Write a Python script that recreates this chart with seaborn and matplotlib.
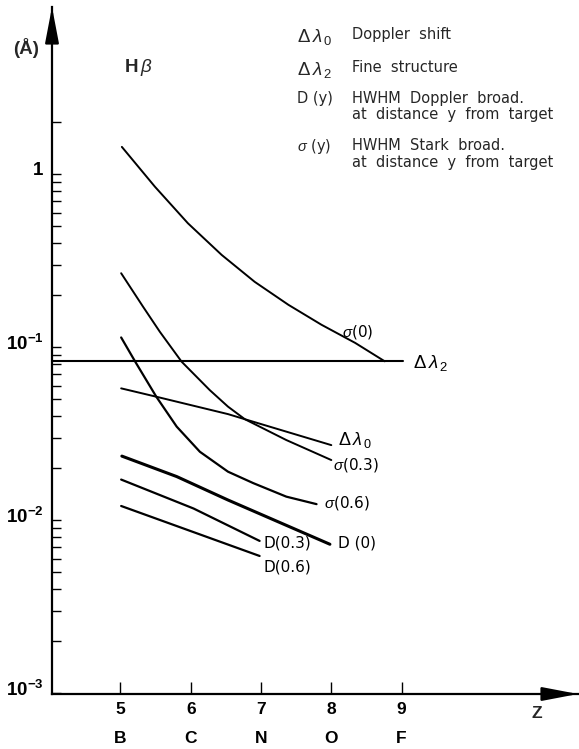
import numpy as np
import pandas as pd
import matplotlib
matplotlib.use("Agg")
import matplotlib.pyplot as plt
import matplotlib.transforms as mtrans
import seaborn as sns
from matplotlib.ticker import FixedLocator, FuncFormatter, NullFormatter

# ---------------- data ----------------
z_sigma0 = [5.02, 5.49, 5.96, 6.44, 6.91, 7.39, 7.86, 8.34, 8.76]
v_sigma0 = [1.44, 0.848, 0.521, 0.342, 0.239, 0.176, 0.135, 0.106, 0.083]

z_sigma03 = [5.01, 5.32, 5.56, 5.87, 6.27, 6.53, 6.77, 7.36, 8.00]
v_sigma03 = [0.268, 0.172, 0.123, 0.0826, 0.0566, 0.0454, 0.0384, 0.0291, 0.0223]

z_sigma06 = [5.01, 5.21, 5.51, 5.80, 6.13, 6.53, 6.89, 7.36, 7.79]
v_sigma06 = [0.114, 0.0826, 0.0518, 0.0348, 0.0249, 0.0191, 0.0164, 0.0137, 0.0124]

z_dl0 = [5.01, 5.51, 6.53, 6.77, 8.00]
v_dl0 = [0.0579, 0.0518, 0.0411, 0.0384, 0.0272]

z_dl2 = [4.03, 9.02]
v_dl2 = [0.083, 0.083]

z_d0 = [5.02, 5.80, 6.53, 7.98]
v_d0 = [0.0235, 0.0179, 0.0131, 0.00727]

z_d03 = [5.01, 6.04, 6.98]
v_d03 = [0.0172, 0.0117, 0.0076]

z_d06 = [5.01, 6.98]
v_d06 = [0.0121, 0.00622]

z_ticks = [5, 6, 7, 8, 9]
elements = ["B", "C", "N", "O", "F"]

y_major = [1e-3, 1e-2, 1e-1, 1.0]
y_major_labels = [r"$\mathbf{10^{-3}}$", r"$\mathbf{10^{-2}}$", r"$\mathbf{10^{-1}}$", r"$\mathbf{1}$"]

curve_labels = [
    (r"$\sigma$(0)", 8.15, 0.1227, 11),
    (r"$\Delta\,\lambda_{\,2}$", 9.16, 0.081, 13.5),
    (r"$\Delta\,\lambda_{\,0}$", 8.09, 0.0291, 13),
    (r"$\sigma$(0.3)", 8.02, 0.0209, 11),
    (r"$\sigma$(0.6)", 7.90, 0.01254, 11),
    ("D (0)", 8.09, 0.00736, 11),
    ("D(0.3)", 7.03, 0.00736, 11),
    ("D(0.6)", 7.03, 0.0054, 11),
]

# ---------------- style ----------------
sns.set_style("white")
plt.rcParams["font.family"] = ["Liberation Sans", "DejaVu Sans"]
plt.rcParams["mathtext.fontset"] = "custom"
plt.rcParams["mathtext.rm"] = "Liberation Sans"
plt.rcParams["mathtext.it"] = "Liberation Sans:italic"
plt.rcParams["mathtext.bf"] = "Liberation Sans:bold"

LABEL_FONT = ["DejaVu Sans"]

W, H = 579, 749
fig = plt.figure(figsize=(W / 100, H / 100), dpi=100)
ax_left, ax_right, ax_bottom, ax_top = 52, 578, 694, 7
ax = fig.add_axes([ax_left / W, 1 - ax_bottom / H, (ax_right - ax_left) / W, (ax_bottom - ax_top) / H])

curves = [
    (z_sigma0, v_sigma0, 1.4),
    (z_sigma03, v_sigma03, 1.4),
    (z_sigma06, v_sigma06, 1.6),
    (z_dl0, v_dl0, 1.4),
    (z_dl2, v_dl2, 1.5),
    (z_d0, v_d0, 2.2),
    (z_d03, v_d03, 1.6),
    (z_d06, v_d06, 1.6),
]
for zz, vv, lw in curves:
    df = pd.DataFrame({"Z": zz, "v": vv})
    sns.lineplot(data=df, x="Z", y="v", ax=ax, color="black", lw=lw,
                 sort=False, estimator=None)

ax.set_yscale("log")
ax.set_xlim(4.026, 11.51)
ax.set_ylim(10 ** -3.004, 10 ** 0.967)

# spines
for s in ["top", "right"]:
    ax.spines[s].set_visible(False)
for s in ["left", "bottom"]:
    ax.spines[s].set_linewidth(1.6)
    ax.spines[s].set_color("black")

# arrows on axes
ax.annotate("", xy=(0, 1), xycoords="axes fraction", xytext=(0, 0.95),
            arrowprops=dict(arrowstyle="-|>,head_length=2.2,head_width=0.42",
                            color="black", lw=1.6, shrinkA=0, shrinkB=0))
ax.annotate("", xy=(1, 0), xycoords="axes fraction", xytext=(0.95, 0),
            arrowprops=dict(arrowstyle="-|>,head_length=2.2,head_width=0.42",
                            color="black", lw=1.6, shrinkA=0, shrinkB=0))

# x ticks
ax.set_xticks(z_ticks)
ax.set_xticklabels([f"{z}\n{e}" for z, e in zip(z_ticks, elements)])
ax.tick_params(axis="x", which="both", bottom=True, top=False, direction="in",
               length=8.5, width=1.0, pad=6, labelsize=12.5, colors="black")
for lbl in ax.get_xticklabels():
    lbl.set_fontweight("bold")
    lbl.set_linespacing(2.1)

# y ticks
ax.yaxis.set_major_locator(FixedLocator(y_major))
ax.yaxis.set_major_formatter(FuncFormatter(
    lambda v, p: y_major_labels[int(round(np.log10(v))) + 3]))
minor = [k * 10.0 ** d for d in (-3, -2, -1) for k in range(2, 10)] + [2.0]
ax.yaxis.set_minor_locator(FixedLocator(minor))
ax.yaxis.set_minor_formatter(NullFormatter())
ax.tick_params(axis="y", which="both", left=True, right=False, direction="in",
               length=6.5, width=1.0, pad=6, labelsize=13.5, colors="black")
ax.set_xlabel("")
ax.set_ylabel("")

# raise y tick labels slightly, as in the reference
offset = mtrans.ScaledTranslation(0, 4 / 72, fig.dpi_scale_trans)
for tick in ax.yaxis.get_major_ticks():
    tick.label1.set_transform(tick.label1.get_transform() + offset)

# curve labels
for txt, zx, vy, fs in curve_labels:
    ax.text(zx, vy, txt, ha="left", va="center", fontsize=fs, color="black",
            family=LABEL_FONT)

# other texts (figure pixel positions)
def ftext(x, y, s, **kw):
    fig.text(x / W, 1 - y / H, s, **kw)

ftext(13, 48, "(Å)", fontsize=13.5, fontweight="bold", va="center", ha="left")
ftext(124, 68, r"H$\,\beta$", fontsize=13.5, fontweight="bold", va="center", ha="left")
ftext(537, 713, "Z", fontsize=12.5, fontweight="bold", va="center", ha="center")

leg_fs = 10.5
ftext(297, 37, r"$\Delta\,\lambda_{\,0}$", fontsize=13.5, va="center", ha="left")
ftext(352, 35, "Doppler  shift", fontsize=leg_fs, va="center", ha="left", family=LABEL_FONT)
ftext(297, 70, r"$\Delta\,\lambda_{\,2}$", fontsize=13.5, va="center", ha="left")
ftext(352, 67, "Fine  structure", fontsize=leg_fs, va="center", ha="left", family=LABEL_FONT)
ftext(297, 98, "D (y)", fontsize=leg_fs, va="center", ha="left", family=LABEL_FONT)
ftext(352, 98, "HWHM  Doppler  broad.", fontsize=leg_fs, va="center", ha="left", family=LABEL_FONT)
ftext(352, 115, "at  distance  y  from  target", fontsize=leg_fs, va="center", ha="left", family=LABEL_FONT)
ftext(297, 146, r"$\sigma$ (y)", fontsize=leg_fs, va="center", ha="left", family=LABEL_FONT)
ftext(352, 146, "HWHM  Stark  broad.", fontsize=leg_fs, va="center", ha="left", family=LABEL_FONT)
ftext(352, 162, "at  distance  y  from  target", fontsize=leg_fs, va="center", ha="left", family=LABEL_FONT)

fig.savefig("out.png", dpi=100, facecolor="white")
